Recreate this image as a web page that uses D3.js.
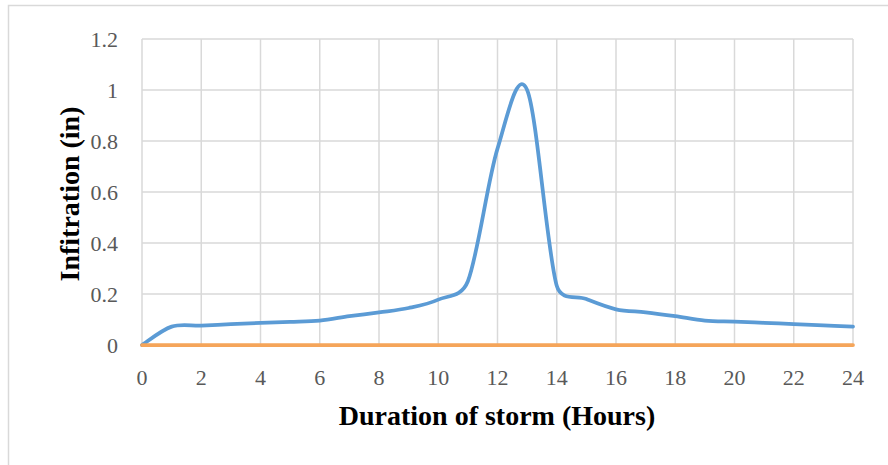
<!DOCTYPE html>
<html>
<head>
<meta charset="utf-8">
<script src="https://cdn.jsdelivr.net/npm/d3@7"></script>
<style>
body { margin: 0; background: #fff; }
svg { display: block; }
</style>
</head>
<body>
<div id="chart"></div>
<script>
// hours of the storm and infiltration
var hours = [0, 1, 2, 3, 4, 5, 6, 7, 8, 9, 10, 11, 12, 13, 14, 15, 16, 17, 18, 19, 20, 21, 22, 23, 24];
var infiltration = [0, 0.072, 0.076, 0.082, 0.087, 0.091, 0.096, 0.113, 0.128, 0.145, 0.178, 0.25, 0.77, 1.0, 0.232, 0.18, 0.14, 0.128, 0.113, 0.096, 0.092, 0.087, 0.082, 0.077, 0.072];
var baseline = [0, 0, 0, 0, 0, 0, 0, 0, 0, 0, 0, 0, 0, 0, 0, 0, 0, 0, 0, 0, 0, 0, 0, 0, 0];
var xTicks = [0, 2, 4, 6, 8, 10, 12, 14, 16, 18, 20, 22, 24];
var yTicks = [0, 0.2, 0.4, 0.6, 0.8, 1, 1.2];

var W = 888, H = 465;
var font = "'Liberation Serif', 'DejaVu Serif', serif";

// smoothed line like the spreadsheet one: bezier arms of 1/6 of the
// neighbour chord, but never longer than half the segment
function SmoothCurve(context)
{
	this._context = context;
}
SmoothCurve.prototype = {
	areaStart: function() {},
	areaEnd: function() {},
	lineStart: function() { this._pts = []; },
	point: function(px, py) { this._pts.push([+px, +py]); },
	lineEnd: function()
	{
		var p = this._pts, c = this._context, n = p.length;
		if(!n) return;
		c.moveTo(p[0][0], p[0][1]);
		for(var i=0;i<n-1;i++)
		{
			var p0 = p[Math.max(i-1, 0)], p1 = p[i], p2 = p[i+1], p3 = p[Math.min(i+2, n-1)];
			var seg = Math.hypot(p2[0]-p1[0], p2[1]-p1[1]);
			var d02 = Math.hypot(p2[0]-p0[0], p2[1]-p0[1]);
			var d13 = Math.hypot(p3[0]-p1[0], p3[1]-p1[1]);
			var f1 = 1/6, f2 = 1/6;
			if(d02/6 > seg/2) f1 = seg/2/d02;
			if(d13/6 > seg/2) f2 = seg/2/d13;
			c.bezierCurveTo(
				p1[0]+(p2[0]-p0[0])*f1, p1[1]+(p2[1]-p0[1])*f1,
				p2[0]-(p3[0]-p1[0])*f2, p2[1]-(p3[1]-p1[1])*f2,
				p2[0], p2[1]);
		}
	}
};
function smoothCurve(context) { return new SmoothCurve(context); }

var svg = d3.select("#chart")
	.append("svg")
	.attr("width", W)
	.attr("height", H);

// chart frame (cropped on right and bottom)
svg.append("rect")
	.attr("x", 8.5)
	.attr("y", 5.5)
	.attr("width", W + 10)
	.attr("height", H + 10)
	.attr("fill", "#fff")
	.attr("stroke", "#d9d9d9")
	.attr("stroke-width", 1.5);

var x = d3.scaleLinear().domain([0, 24]).range([142, 853]);
var y = d3.scaleLinear().domain([0, 1.2]).range([345, 39]);

// grid
svg.append("g")
	.selectAll("line")
	.data(xTicks)
	.enter()
	.append("line")
	.attr("x1", function(d) { return x(d); })
	.attr("x2", function(d) { return x(d); })
	.attr("y1", y(0))
	.attr("y2", y(1.2))
	.attr("stroke", "#d9d9d9")
	.attr("stroke-width", 1.5);

svg.append("g")
	.selectAll("line")
	.data(yTicks)
	.enter()
	.append("line")
	.attr("x1", x(0))
	.attr("x2", x(24))
	.attr("y1", function(d) { return y(d); })
	.attr("y2", function(d) { return y(d); })
	.attr("stroke", "#d9d9d9")
	.attr("stroke-width", 1.5);

// tick labels
svg.append("g")
	.selectAll("text")
	.data(xTicks)
	.enter()
	.append("text")
	.attr("x", function(d) { return x(d); })
	.attr("y", 385)
	.attr("text-anchor", "middle")
	.attr("font-family", font)
	.attr("font-size", 22)
	.attr("fill", "#595959")
	.text(function(d) { return d; });

svg.append("g")
	.selectAll("text")
	.data(yTicks)
	.enter()
	.append("text")
	.attr("x", 118)
	.attr("y", function(d) { return y(d) + 8; })
	.attr("text-anchor", "end")
	.attr("font-family", font)
	.attr("font-size", 22)
	.attr("fill", "#595959")
	.text(function(d) { return d; });

// axis titles
svg.append("text")
	.attr("x", 497)
	.attr("y", 425)
	.attr("text-anchor", "middle")
	.attr("font-family", font)
	.attr("font-weight", "bold")
	.attr("font-size", 28)
	.attr("fill", "#000")
	.text("Duration of storm (Hours)");

svg.append("text")
	.attr("transform", "translate(79,194) rotate(-90)")
	.attr("text-anchor", "middle")
	.attr("font-family", font)
	.attr("font-weight", "bold")
	.attr("font-size", 28)
	.attr("fill", "#000")
	.text("Infitration (in)");

// series
var line = d3.line()
	.x(function(d) { return x(d[0]); })
	.y(function(d) { return y(d[1]); })
	.curve(smoothCurve);

svg.append("path")
	.datum(d3.zip(hours, infiltration))
	.attr("d", line)
	.attr("fill", "none")
	.attr("stroke", "#5b9bd5")
	.attr("stroke-width", 3.75)
	.attr("stroke-linejoin", "round")
	.attr("stroke-linecap", "round");

svg.append("path")
	.datum(d3.zip(hours, baseline))
	.attr("d", line)
	.attr("fill", "none")
	.attr("stroke", "#f5a55a")
	.attr("stroke-width", 3.75)
	.attr("stroke-linecap", "round");
</script>
</body>
</html>
